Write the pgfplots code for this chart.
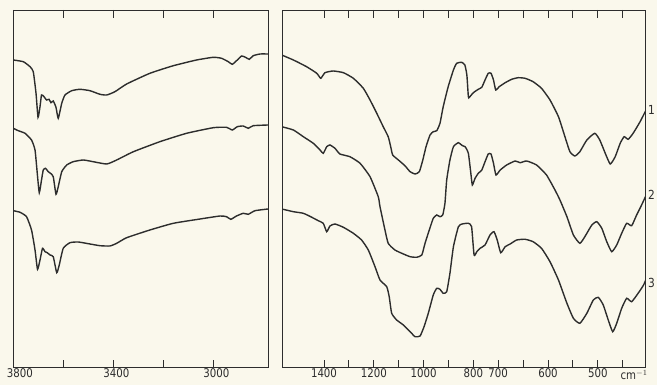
\documentclass[border=0pt]{standalone}
\usepackage{pgfplots}
\pgfplotsset{compat=1.18}
\usepackage{pgfplotstable}
\usepackage{fontspec}
\setmainfont{DejaVu Sans}[FakeStretch=0.85]
\definecolor{paper}{RGB}{250,248,236}
\definecolor{ink}{RGB}{45,45,45}

% left panel (3800-2780 cm^-1): wavenumber, signal (arbitrary, vertical offset included)
\pgfplotstableread{
wn y
3800 308
3760 306.3
3733 301.3
3720 296.3
3709 274.7
3701 250.7
3693 261.3
3687 273
3677 271.3
3667 268
3657 268.7
3649 265.3
3640 267
3629 260.7
3620 249.7
3606 264.7
3593 273
3566 277.3
3533 278.7
3493 277.3
3453 273.7
3426 273
3393 276.3
3346 284
3253 294.7
3159 302.3
3066 308
2999 310.7
2966 309.7
2939 306.3
2923 303.7
2903 308
2886 312
2870 310.7
2855 308.7
2839 312.3
2812 314
2780 314
}\LA
\pgfplotstableread{
wn y
3800 239.7
3780 237.3
3753 234.7
3727 228
3713 218
3704 194.7
3696 175.3
3687 188
3680 198
3671 199.7
3660 196.3
3651 194.7
3640 191.3
3629 173.7
3620 181.3
3606 196.3
3586 203
3560 206.3
3520 208
3480 206.3
3426 204
3386 208
3319 216.3
3213 226.3
3106 234.7
2999 240.3
2946 240.7
2923 238
2903 241.3
2879 242
2859 239.7
2839 242.3
2780 243
}\LB
\pgfplotstableread{
wn y
3800 157.3
3773 155.7
3747 151.3
3727 138
3713 118
3703 98.7
3693 108
3683 119.7
3673 116.3
3664 115.3
3653 113
3640 111.3
3626 95.3
3616 103
3600 119.7
3573 125.3
3540 126
3493 124
3453 122.3
3413 122
3386 124.7
3346 130.3
3253 138
3159 144.7
3052 149
2972 152
2946 151.3
2929 148.7
2906 152
2879 154.7
2859 153.7
2832 157.3
2780 159
}\LC
% right panel (1570-400 cm^-1)
\pgfplotstableread{
wn y
1570 313
1523 308
1470 301.3
1429 294.7
1413 289.7
1396 295.3
1363 297
1322 295.3
1282 289.7
1242 279.7
1215 268
1188 254.7
1162 241.3
1142 231.3
1132 221.3
1124 213
1101 208
1075 202.3
1054 196.3
1034 194
1017 196.3
1003 208
990 221.3
974 233
961 236.3
947 237.3
934 244.7
921 261.3
901 281.3
880 298
867 304.7
847 305.7
834 303
826 293
820 271.3
816 270.7
800 275.3
780 278.7
766 280.7
753 288
740 294.7
729 294.7
719 288
710 278
698 281.3
686 285.3
673 288.7
660 290.3
646 289.7
630 286.3
613 279.7
596 268
579 251.3
566 231.3
556 216.3
546 212
536 216.3
522 228
506 234.7
496 228
485 214.7
475 204
465 211.3
455 224.7
447 231.3
439 228.7
429 234.7
415 246.3
403 258
}\RA
\pgfplotstableread{
wn y
1570 241.3
1523 238
1483 231.3
1443 224.7
1416 218
1403 214.7
1389 221.3
1376 223
1356 219.7
1336 214
1296 211.3
1255 204.7
1215 191.3
1182 171.3
1175 161.3
1155 138
1142 124.7
1115 118
1081 114
1054 111.3
1028 110.7
1007 113
994 124.7
977 138
961 149.7
947 153
934 151.3
923 153
914 164.7
907 188
894 208
880 221.3
860 225.3
845 222.5
833 221.3
820 214.7
810 194.7
804 183
793 189.7
780 194.7
766 198
753 206.3
740 214
729 214
719 204.7
709 193
696 198
683 203
666 207
656 205.3
643 207
623 203
603 193
586 178
576 168
562 151.3
549 133
536 124.7
526 131.3
512 143
502 146.3
492 139.7
482 126.3
472 116.3
462 123
452 134.7
442 144.7
432 142.3
422 153
412 163
401 174.7
}\RB
\pgfplotstableread{
wn y
1564 158.7
1523 156.3
1483 154.7
1449 150.7
1423 147.3
1403 144.7
1389 136.3
1376 142
1356 144
1322 140.7
1282 134.7
1249 128
1222 118
1195 101.3
1175 88
1148 81.3
1138 71.3
1128 54.7
1108 48
1081 43
1054 36.3
1034 31.3
1014 32
998 41.3
981 54.7
961 73
947 79.7
934 78.7
921 74.7
907 76.3
894 94.7
880 121.3
860 141.3
845 144
820 144.7
807 141.3
797 113
786 116.3
773 119.7
753 123
733 133
717 136.3
704 128
695 115.3
686 121.3
676 124
663 128
646 128.7
630 126.3
613 119.7
596 106.3
579 88
562 64.7
549 49.7
536 44.7
522 54.7
509 68
499 70.7
489 63
479 48
470 36.3
462 44.7
452 59.7
442 69.7
432 66.3
419 74.7
408 83
401 91.3
}\RC

\pgfplotsset{
  spec/.style={
    scale only axis, height=357.7pt, ymin=0.3, ymax=358,
    ytick=\empty, axis line style={ink, line width=0.8pt},
    xtick pos=both, tick align=inside, major tick length=8pt,
    every tick/.style={ink, line width=0.8pt},
    xticklabel style={font=\fontsize{12}{14}\selectfont, text=ink, inner sep=0.5pt},
    /pgf/number format/assume math mode=true,
    clip=true,
  },
  curve/.style={ink, line width=1.4pt, smooth, tension=0.3, no marks},
}

\begin{document}
\begin{tikzpicture}
\fill[paper] (0,0) rectangle (657pt,385pt);
\path[use as bounding box] (0,0) rectangle (657pt,385pt);
\begin{axis}[spec, at={(13.3pt,17.3pt)}, anchor=south west, width=254.7pt,
  x dir=reverse, xmin=2780, xmax=3800,
  xtick={3800,3600,3400,3200,3000}, xticklabels={{\hphantom{00}3800},,{\hphantom{0}3400},,{\hphantom{0}3000}}]
\addplot[curve] table[x=wn,y=y] {\LA};
\addplot[curve] table[x=wn,y=y] {\LB};
\addplot[curve] table[x=wn,y=y] {\LC};
\end{axis}
\begin{axis}[spec, at={(282pt,17.3pt)}, anchor=south west, width=363.7pt,
  xmin=-1568.7, xmax=-107.5,
  xtick={-1400,-1300,-1200,-1100,-1000,-900,-800,-700,-600,-500,-400,-300,-200},
  xticklabels={1400,,1200,,1000,,800,700,,600,,500,},
  clip mode=individual]
\addplot[curve] table[x expr={\thisrow{wn}>=700 ? -\thisrow{wn} : 700-2*\thisrow{wn}}, y=y] {\RA};
\addplot[curve] table[x expr={\thisrow{wn}>=700 ? -\thisrow{wn} : 700-2*\thisrow{wn}}, y=y] {\RB};
\addplot[curve] table[x expr={\thisrow{wn}>=700 ? -\thisrow{wn} : 700-2*\thisrow{wn}}, y=y] {\RC};
\node[anchor=north, inner sep=0.5pt, text=ink, font=\fontsize{12}{14}\selectfont] at (rel axis cs:0.968,0) [yshift=-1.8pt] {cm$^{-1}$};
\node[anchor=west, inner sep=0pt, text=ink, font=\fontsize{12.5}{14}\selectfont] at (rel axis cs:1.006,0.720) {1};
\node[anchor=west, inner sep=0pt, text=ink, font=\fontsize{12.5}{14}\selectfont] at (rel axis cs:1.006,0.483) {2};
\node[anchor=west, inner sep=0pt, text=ink, font=\fontsize{12.5}{14}\selectfont] at (rel axis cs:1.006,0.237) {3};
\end{axis}
\end{tikzpicture}
\end{document}
